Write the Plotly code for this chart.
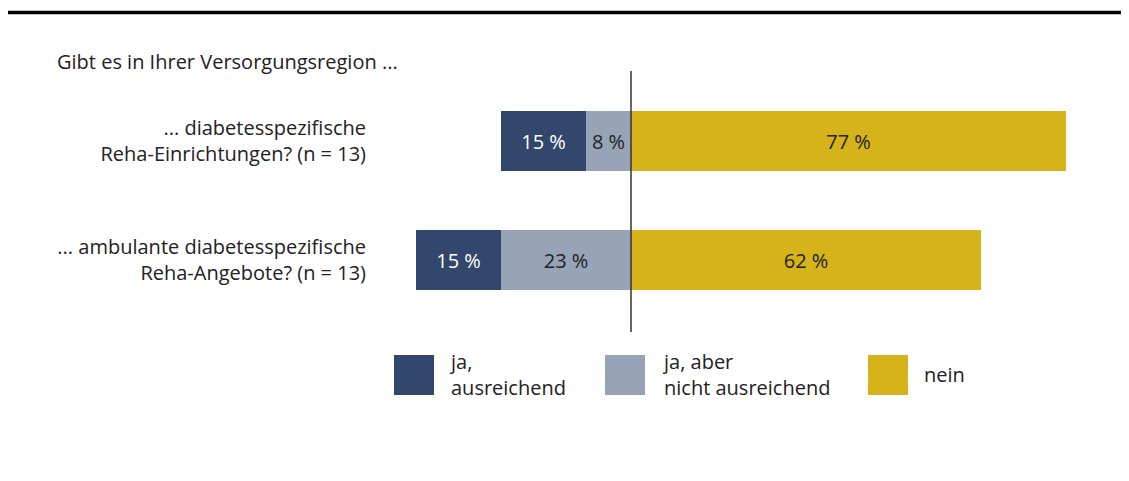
import plotly.graph_objects as go

# page body has an 8px margin, so the figure starts at (8, 8)
OFF = 8
W, H = 1129 - OFF, 481 - OFF

categories = ["... diabetesspezifische<br>Reha-Einrichtungen? (n = 13)",
              "... ambulante diabetesspezifische<br>Reha-Angebote? (n = 13)"]
series_names = ["ja,<br>ausreichend", "ja, aber<br>nicht ausreichend", "nein"]
ja_ausreichend = [15, 15]
ja_nicht_ausreichend = [8, 23]
nein = [77, 62]
title_text = "Gibt es in Ihrer Versorgungsregion ..."

colors = ["#33466b", "#97a3b7", "#d6b318"]
text_colors = ["white", "#222222", "#222222"]
FONT = "Open Sans"
FS = 20


def px(x):
    return (x - OFF) / W


def py(y):
    return 1 - (y - OFF) / H


ypos = [0, 1]
fig = go.Figure()
traces = [
    (ja_nicht_ausreichend, -1, 1),
    (ja_ausreichend, -1, 0),
    (nein, 1, 2),
]
for vals, sign, ci in traces:
    fig.add_trace(go.Bar(y=ypos, x=[sign * v for v in vals], orientation="h",
                         marker=dict(color=colors[ci], line=dict(width=0)),
                         text=[f"{v} %" for v in vals], textposition="inside",
                         insidetextanchor="middle", textangle=0,
                         textfont=dict(color=text_colors[ci], size=FS, family=FONT),
                         width=0.5, showlegend=False, hoverinfo="skip"))

px_per = 5.65
x0px = 631 - OFF
dom_left = 367 - OFF
xr = [(dom_left - x0px) / px_per, (W - x0px) / px_per]
ypx_per = 119
y0px = 141 - OFF
yr = [(H - y0px) / ypx_per, (0 - y0px) / ypx_per]

shapes = [
    dict(type="line", xref="paper", yref="paper", x0=0, x1=1, y0=py(12.5), y1=py(12.5),
         line=dict(color="black", width=3.5)),
    dict(type="line", xref="x", yref="paper", x0=0, x1=0, y0=py(71), y1=py(332),
         line=dict(color="#333333", width=1.5)),
]
annotations = [
    dict(text=title_text, xref="paper", yref="paper", x=px(55), y=py(61),
         xanchor="left", yanchor="middle", showarrow=False,
         font=dict(size=FS, color="#222222", family=FONT)),
]
leg_x = [394, 605, 868]
leg_tx = [447, 660, 922]
for i, name in enumerate(series_names):
    shapes.append(dict(type="rect", xref="paper", yref="paper",
                       x0=px(leg_x[i]), x1=px(leg_x[i] + 40),
                       y0=py(395), y1=py(355),
                       fillcolor=colors[i], line=dict(width=0)))
    annotations.append(dict(text=name, xref="paper", yref="paper", x=px(leg_tx[i]), y=py(374),
                            xanchor="left", yanchor="middle", align="left", showarrow=False,
                            font=dict(size=FS, color="#222222", family=FONT)))

fig.update_layout(
    width=W, height=H, margin=dict(l=0, r=0, t=0, b=0),
    paper_bgcolor="white", plot_bgcolor="white",
    barmode="relative", bargap=0,
    font=dict(family=FONT, size=FS, color="#222222"),
    xaxis=dict(domain=[px(367 + 0) - 0, 1], range=xr, showgrid=False, zeroline=False,
               showticklabels=False, showline=False),
    yaxis=dict(domain=[0, 1], range=yr, tickvals=ypos, ticktext=categories,
               showgrid=False, zeroline=False, showline=False, ticks="",
               tickfont=dict(size=FS, color="#222222", family=FONT)),
    shapes=shapes, annotations=annotations,
    uniformtext=dict(minsize=FS, mode="show"),
)
fig.write_html("out.html")
